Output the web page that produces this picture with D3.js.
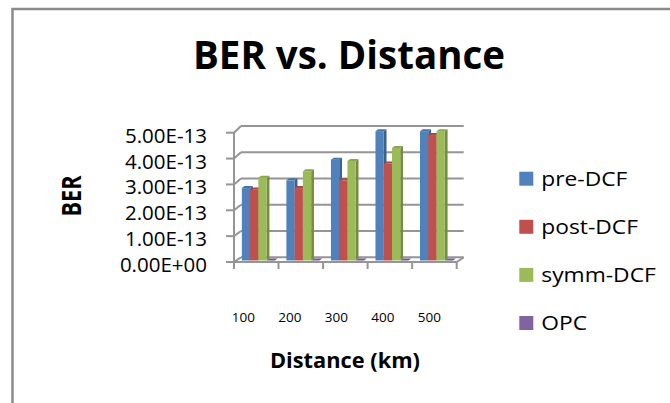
<!DOCTYPE html>
<html>
<head>
<meta charset="utf-8">
<script src="https://cdn.jsdelivr.net/npm/d3@7"></script>
<style>
  html, body { margin: 0; padding: 0; background: #fff; }
  svg { display: block; }
  text { font-family: "Open Sans", Carlito, Calibri, sans-serif; fill: #000; }
</style>
</head>
<body>
<svg id="chart" width="670" height="403"></svg>
<script>
// Distances (km) along the category axis
const categories = ["100", "200", "300", "400", "500"];
// Schemes plotted as clustered columns
const seriesNames = ["pre-DCF", "post-DCF", "symm-DCF", "OPC"];
const seriesColors = ["#4F81BD", "#C0504D", "#9BBB59", "#8064A2"];
// BER values per scheme (one per distance)
const preDCF  = [2.8e-13, 3.1e-13, 3.9e-13, 5.0e-13, 5.0e-13];
const postDCF = [2.75e-13, 2.8e-13, 3.1e-13, 3.75e-13, 4.85e-13];
const symmDCF = [3.2e-13, 3.45e-13, 3.85e-13, 4.35e-13, 5.0e-13];
const opc     = [0, 0, 0, 0, 0];
const seriesValues = [preDCF, postDCF, symmDCF, opc];
// Value axis ticks
const yTicks = [0, 1e-13, 2e-13, 3e-13, 4e-13, 5e-13];
const yTickLabels = ["0.00E+00", "1.00E-13", "2.00E-13", "3.00E-13", "4.00E-13", "5.00E-13"];

const svg = d3.select("#chart");

// Outer chart frame (runs off the right and bottom edges)
svg.append("rect")
  .attr("x", 12.5).attr("y", 9)
  .attr("width", 700).attr("height", 420)
  .attr("fill", "#fff").attr("stroke", "#8a8a8a").attr("stroke-width", 2.5);

// Oblique projection: depth of the plot box
const DX = 7, DY = -5;

// Front plane scales
const x = d3.scaleBand().domain(categories).range([234, 456.7])
  .paddingInner(0.258).paddingOuter(0.129);
const xs = d3.scaleBand().domain(seriesNames).range([0, x.bandwidth()]);
const y = d3.scaleLinear().domain([0, 5e-13]).range([262, 132.7]);
// Back wall scale (slight perspective)
const yBack = d3.scaleLinear().domain([0, 5e-13]).range([257.3, 126]);

const grid = svg.append("g")
  .attr("stroke", "#959595").attr("stroke-width", 2).attr("fill", "none");

const xLeft = x.range()[0], xRight = x.range()[1];

// Back wall gridlines
grid.selectAll("line.back").data(yTicks).join("line")
  .attr("x1", xLeft + DX).attr("x2", xRight + DX)
  .attr("y1", d => yBack(d)).attr("y2", d => yBack(d));
// Side wall diagonals from the front axis to the back wall
grid.selectAll("line.side").data(yTicks).join("line")
  .attr("x1", xLeft).attr("y1", d => y(d))
  .attr("x2", xLeft + DX).attr("y2", d => yBack(d));
// Floor right edge
grid.append("line")
  .attr("x1", xRight).attr("y1", y(0))
  .attr("x2", xRight + DX).attr("y2", yBack(0));
// Front value axis line with tick marks
grid.append("line")
  .attr("x1", xLeft).attr("x2", xLeft)
  .attr("y1", y(5e-13)).attr("y2", y(0));
grid.selectAll("line.ytick").data(yTicks).join("line")
  .attr("x1", xLeft - 8).attr("x2", xLeft)
  .attr("y1", d => y(d)).attr("y2", d => y(d));
// Front category axis line with tick marks at band boundaries
grid.append("line")
  .attr("x1", xLeft).attr("x2", xRight)
  .attr("y1", y(0)).attr("y2", y(0));
const bounds = categories.map(c => x(c) - x.step() * x.paddingInner() / 2)
  .concat([xRight]);
grid.selectAll("line.xtick").data(bounds).join("line")
  .attr("x1", d => d).attr("x2", d => d)
  .attr("y1", y(0)).attr("y2", y(0) + 7);

// 3D columns: front face, right side and top
const f0 = 0.3, f1 = 0.7;          // column depth band within the box
const ox = DX * f0, oy = DY * f0;  // front face offset
const sx = DX * (f1 - f0), sy = DY * (f1 - f0);

const bars = [];
categories.forEach((c, i) => {
  seriesNames.forEach((s, k) => {
    bars.push({ cat: c, series: s, k, value: seriesValues[k][i] });
  });
});

const barG = svg.append("g");
const col = barG.selectAll("g.col").data(bars).join("g");

col.each(function(d) {
  const g = d3.select(this);
  const base = d3.color(seriesColors[d.k]);
  const x0 = x(d.cat) + xs(d.series) + ox;
  const w = xs.bandwidth();
  const yb = y(0) + oy;
  const yt = y(d.value) + oy;
  // right side
  g.append("path")
    .attr("d", `M${x0 + w},${yt} L${x0 + w + sx},${yt + sy} L${x0 + w + sx},${yb + sy} L${x0 + w},${yb} Z`)
    .attr("fill", base.darker(0.8));
  // front face
  g.append("rect")
    .attr("x", x0).attr("y", yt).attr("width", w).attr("height", Math.max(0, yb - yt))
    .attr("fill", base);
  // top
  g.append("path")
    .attr("d", `M${x0},${yt} L${x0 + sx},${yt + sy} L${x0 + w + sx},${yt + sy} L${x0 + w},${yt} Z`)
    .attr("fill", base.darker(0.35));
});

// Value axis labels
svg.append("g").selectAll("text").data(yTicks).join("text")
  .attr("x", 207).attr("y", d => y(d) + 10)
  .attr("text-anchor", "end").attr("font-size", 20.5)
  .text((d, i) => yTickLabels[i]);

// Category labels
const xl = d3.scalePoint().domain(categories).range([243.3, 429.3]);
svg.append("g").selectAll("text").data(categories).join("text")
  .attr("x", d => xl(d)).attr("y", 321.7)
  .attr("text-anchor", "middle").attr("font-size", 13.5)
  .text(d => d);

// Titles
svg.append("text").attr("x", 349).attr("y", 69)
  .attr("text-anchor", "middle").attr("font-size", 38.5).attr("font-weight", "bold")
  .text("BER vs. Distance");
svg.append("text").attr("x", 345).attr("y", 368)
  .attr("text-anchor", "middle").attr("font-size", 21.8).attr("font-weight", "bold")
  .text("Distance (km)");
svg.append("text")
  .attr("transform", "translate(80.5,196) rotate(-90) scale(1,1.2)")
  .attr("text-anchor", "middle").attr("font-size", 21.7).attr("font-weight", "bold")
  .text("BER");

// Legend
const leg = svg.append("g").selectAll("g").data(seriesNames).join("g")
  .attr("transform", (d, i) => `translate(519.3,${171.7 + i * 48.1})`);
leg.append("rect").attr("width", 14).attr("height", 14)
  .attr("fill", (d, i) => seriesColors[i]);
leg.append("text")
  .attr("transform", "translate(22,14.3) scale(1.14,1)")
  .attr("font-size", 20).text(d => d);
</script>
</body>
</html>
